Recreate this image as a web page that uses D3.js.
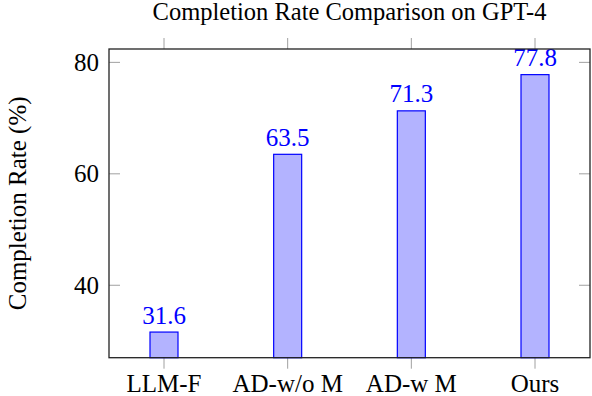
<!DOCTYPE html>
<html>
<head>
<meta charset="utf-8">
<script src="https://cdn.jsdelivr.net/npm/d3@7"></script>
<style>
  body { margin: 0; background: #fff; }
</style>
</head>
<body>
<script>
// chart data
var categories = ["LLM-F", "AD-w/o M", "AD-w M", "Ours"];
var rates = [31.6, 63.5, 71.3, 77.8];
var yTicks = [40, 60, 80];

var width = 592, height = 396;
var pLeft = 109, pRight = 590, pTop = 49, pBottom = 357.7;
var font = "'Liberation Serif', 'DejaVu Serif', serif";

var svg = d3.select("body").append("svg")
  .attr("width", width)
  .attr("height", height)
  .attr("font-family", font);

var x = d3.scalePoint()
  .domain(categories)
  .range([164, 535]);

var y = d3.scaleLinear()
  .domain([27, 82.4])
  .range([pBottom, pTop]);

var tickColor = "#a0a0a0", tickLen = 11;

// x ticks, outside on bottom and top
svg.append("g").selectAll("line")
  .data(categories).enter().append("line")
  .attr("x1", function(d) { return x(d); })
  .attr("x2", function(d) { return x(d); })
  .attr("y1", pBottom).attr("y2", pBottom + tickLen)
  .attr("stroke", tickColor).attr("stroke-width", 1);
svg.append("g").selectAll("line")
  .data(categories).enter().append("line")
  .attr("x1", function(d) { return x(d); })
  .attr("x2", function(d) { return x(d); })
  .attr("y1", pTop).attr("y2", pTop - tickLen)
  .attr("stroke", tickColor).attr("stroke-width", 1);

// y ticks, inside on left and right
svg.append("g").selectAll("line")
  .data(yTicks).enter().append("line")
  .attr("x1", pLeft).attr("x2", pLeft + tickLen)
  .attr("y1", function(d) { return y(d); })
  .attr("y2", function(d) { return y(d); })
  .attr("stroke", tickColor);
svg.append("g").selectAll("line")
  .data(yTicks).enter().append("line")
  .attr("x1", pRight - tickLen).attr("x2", pRight)
  .attr("y1", function(d) { return y(d); })
  .attr("y2", function(d) { return y(d); })
  .attr("stroke", tickColor);

// bars
var barW = 28;
svg.append("g").selectAll("rect")
  .data(rates).enter().append("rect")
  .attr("x", function(d, i) { return x(categories[i]) - barW / 2; })
  .attr("y", function(d) { return y(d); })
  .attr("width", barW)
  .attr("height", function(d) { return pBottom - y(d); })
  .attr("fill", "#b3b3ff")
  .attr("stroke", "#0000ff")
  .attr("stroke-width", 1.2);

// value labels
svg.append("g").selectAll("text")
  .data(rates).enter().append("text")
  .attr("x", function(d, i) { return x(categories[i]); })
  .attr("y", function(d) { return y(d) - 8.5; })
  .attr("text-anchor", "middle")
  .attr("font-size", 25)
  .attr("fill", "#0000ff")
  .text(function(d) { return d.toFixed(1); });

// frame
svg.append("rect")
  .attr("x", pLeft).attr("y", pTop)
  .attr("width", pRight - pLeft).attr("height", pBottom - pTop)
  .attr("fill", "none")
  .attr("stroke", "#222")
  .attr("stroke-width", 1.3);

// y tick labels
svg.append("g").selectAll("text")
  .data(yTicks).enter().append("text")
  .attr("x", pLeft - 10)
  .attr("y", function(d) { return y(d) + 8.5; })
  .attr("text-anchor", "end")
  .attr("font-size", 25)
  .text(function(d) { return d; });

// x tick labels
svg.append("g").selectAll("text")
  .data(categories).enter().append("text")
  .attr("x", function(d) { return x(d); })
  .attr("y", 392)
  .attr("text-anchor", "middle")
  .attr("font-size", 25)
  .text(function(d) { return d; });

// title
svg.append("text")
  .attr("x", (pLeft + pRight) / 2)
  .attr("y", 20)
  .attr("text-anchor", "middle")
  .attr("font-size", 24.5)
  .text("Completion Rate Comparison on GPT-4");

// y axis label
svg.append("text")
  .attr("transform", "translate(26," + ((pTop + pBottom) / 2) + ") rotate(-90)")
  .attr("text-anchor", "middle")
  .attr("font-size", 25)
  .text("Completion Rate (%)");
</script>
</body>
</html>
